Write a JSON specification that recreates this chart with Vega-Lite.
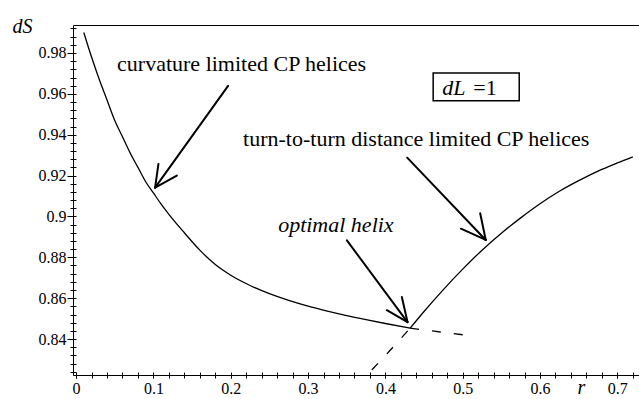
{
  "$schema": "https://vega.github.io/schema/vega-lite/v6.json",
  "width": 566,
  "height": 350,
  "autosize": {"type": "none"},
  "padding": {"left": 73, "top": 25, "right": 0, "bottom": 24},
  "background": "white",
  "config": {
    "view": {"stroke": null},
    "font": "Liberation Serif",
    "axis": {
      "labelFont": "Liberation Serif",
      "labelFontSize": 16,
      "labelColor": "black",
      "domainColor": "black",
      "tickColor": "black",
      "domainWidth": 1,
      "tickWidth": 1,
      "grid": false,
      "titleFont": "Liberation Serif",
      "titleColor": "black"
    }
  },
  "datasets": {
    "solid": [
      {"seg": "curvature", "r": 0.010, "dS": 0.990},
      {"seg": "curvature", "r": 0.020, "dS": 0.978},
      {"seg": "curvature", "r": 0.030, "dS": 0.967},
      {"seg": "curvature", "r": 0.040, "dS": 0.957},
      {"seg": "curvature", "r": 0.050, "dS": 0.947},
      {"seg": "curvature", "r": 0.060, "dS": 0.939},
      {"seg": "curvature", "r": 0.070, "dS": 0.931},
      {"seg": "curvature", "r": 0.080, "dS": 0.924},
      {"seg": "curvature", "r": 0.090, "dS": 0.917},
      {"seg": "curvature", "r": 0.100, "dS": 0.9115},
      {"seg": "curvature", "r": 0.110, "dS": 0.906},
      {"seg": "curvature", "r": 0.120, "dS": 0.901},
      {"seg": "curvature", "r": 0.140, "dS": 0.892},
      {"seg": "curvature", "r": 0.160, "dS": 0.8835},
      {"seg": "curvature", "r": 0.180, "dS": 0.8765},
      {"seg": "curvature", "r": 0.200, "dS": 0.8712},
      {"seg": "curvature", "r": 0.225, "dS": 0.8662},
      {"seg": "curvature", "r": 0.250, "dS": 0.8622},
      {"seg": "curvature", "r": 0.275, "dS": 0.8589},
      {"seg": "curvature", "r": 0.300, "dS": 0.8561},
      {"seg": "curvature", "r": 0.325, "dS": 0.8537},
      {"seg": "curvature", "r": 0.350, "dS": 0.8515},
      {"seg": "curvature", "r": 0.375, "dS": 0.8495},
      {"seg": "curvature", "r": 0.400, "dS": 0.8476},
      {"seg": "curvature", "r": 0.432, "dS": 0.8453},
      {"seg": "distance", "r": 0.432, "dS": 0.8453},
      {"seg": "distance", "r": 0.450, "dS": 0.8535},
      {"seg": "distance", "r": 0.475, "dS": 0.8642},
      {"seg": "distance", "r": 0.500, "dS": 0.8742},
      {"seg": "distance", "r": 0.525, "dS": 0.8835},
      {"seg": "distance", "r": 0.550, "dS": 0.8918},
      {"seg": "distance", "r": 0.575, "dS": 0.8993},
      {"seg": "distance", "r": 0.600, "dS": 0.9062},
      {"seg": "distance", "r": 0.625, "dS": 0.9123},
      {"seg": "distance", "r": 0.650, "dS": 0.9175},
      {"seg": "distance", "r": 0.675, "dS": 0.9222},
      {"seg": "distance", "r": 0.700, "dS": 0.9262},
      {"seg": "distance", "r": 0.720, "dS": 0.9292}
    ],
    "dashed": [
      {"seg": "curvature", "r": 0.432, "dS": 0.8453},
      {"seg": "curvature", "r": 0.466, "dS": 0.8437},
      {"seg": "curvature", "r": 0.500, "dS": 0.8421},
      {"seg": "distance", "r": 0.3825, "dS": 0.8249},
      {"seg": "distance", "r": 0.405, "dS": 0.8340},
      {"seg": "distance", "r": 0.432, "dS": 0.8453}
    ],
    "arrows": [
      {"r1": 0.1966, "v1": 0.9639, "r2": 0.1022, "v2": 0.9141},
      {"r1": 0.1022, "v1": 0.9141, "r2": 0.1065, "v2": 0.9257},
      {"r1": 0.1022, "v1": 0.9141, "r2": 0.1303, "v2": 0.9200},
      {"r1": 0.4282, "v1": 0.9288, "r2": 0.5298, "v2": 0.8885},
      {"r1": 0.5298, "v1": 0.8885, "r2": 0.5226, "v2": 0.9016},
      {"r1": 0.5298, "v1": 0.8885, "r2": 0.4977, "v2": 0.8940},
      {"r1": 0.3502, "v1": 0.8883, "r2": 0.4286, "v2": 0.8483},
      {"r1": 0.4286, "v1": 0.8483, "r2": 0.4213, "v2": 0.8606},
      {"r1": 0.4286, "v1": 0.8483, "r2": 0.4019, "v2": 0.8541}
    ],
    "box": [
      {"r1": 0.4618, "r2": 0.5731, "v1": 0.9702, "v2": 0.9566}
    ],
    "notes": [
      {"r": 0.053, "v": 0.9712, "label": "curvature limited CP helices"},
      {"r": 0.216, "v": 0.9346, "label": "turn-to-turn distance limited CP helices"},
      {"r": 0.5136, "v": 0.9595, "label": "=1"}
    ],
    "italicNotes": [
      {"r": 0.2613, "v": 0.8922, "label": "optimal helix"},
      {"r": 0.4735, "v": 0.9595, "label": "dL"}
    ]
  },
  "layer": [
    {
      "data": {"name": "solid"},
      "mark": {"type": "line", "color": "black", "strokeWidth": 1.3, "interpolate": "monotone"},
      "encoding": {
        "x": {
          "field": "r", "type": "quantitative",
          "scale": {"domain": [-0.004, 0.728], "nice": false, "zero": false},
          "axis": {
            "orient": "bottom",
            "values": [0, 0.1, 0.2, 0.3, 0.4, 0.5, 0.6, 0.7],
            "format": "~g",
            "tickSize": 3,
            "labelPadding": 2,
            "title": "r",
            "titleFontSize": 20,
            "titleFontStyle": "italic",
            "titleFontWeight": "normal",
            "titleX": 508,
            "titleY": 18,
            "titleAlign": "center",
            "titleBaseline": "alphabetic"
          }
        },
        "y": {
          "field": "dS", "type": "quantitative",
          "scale": {"domain": [0.8224, 0.9937], "nice": false, "zero": false},
          "axis": {
            "orient": "left",
            "values": [0.84, 0.86, 0.88, 0.9, 0.92, 0.94, 0.96, 0.98],
            "format": "~g",
            "tickSize": 6,
            "labelPadding": 1,
            "title": "dS",
            "titleAngle": 0,
            "titleFontSize": 20,
            "titleFontStyle": "italic",
            "titleFontWeight": "normal",
            "titleX": -51,
            "titleY": 7,
            "titleAlign": "center",
            "titleBaseline": "alphabetic"
          }
        },
        "detail": {"field": "seg", "type": "nominal"}
      }
    },
    {
      "data": {"name": "dashed"},
      "mark": {"type": "line", "color": "black", "strokeWidth": 1.3, "strokeDash": [9, 13], "interpolate": "monotone"},
      "encoding": {
        "x": {
          "field": "r", "type": "quantitative",
          "scale": {"domain": [-0.004, 0.728], "nice": false, "zero": false},
          "axis": {
            "orient": "bottom",
            "values": [0, 0.02, 0.04, 0.06, 0.08, 0.1, 0.12, 0.14, 0.16, 0.18, 0.2, 0.22, 0.24, 0.26, 0.28, 0.3, 0.32, 0.34, 0.36, 0.38, 0.4, 0.42, 0.44, 0.46, 0.48, 0.5, 0.52, 0.54, 0.56, 0.58, 0.6, 0.62, 0.64, 0.66, 0.68, 0.7, 0.72],
            "labels": false,
            "domain": false,
            "tickSize": 6,
            "offset": -3,
            "title": null
          }
        },
        "y": {
          "field": "dS", "type": "quantitative",
          "scale": {"domain": [0.8224, 0.9937], "nice": false, "zero": false},
          "axis": {
            "orient": "left",
            "values": [0.824, 0.828, 0.832, 0.836, 0.84, 0.844, 0.848, 0.852, 0.856, 0.86, 0.864, 0.868, 0.872, 0.876, 0.88, 0.884, 0.888, 0.892, 0.896, 0.9, 0.904, 0.908, 0.912, 0.916, 0.92, 0.924, 0.928, 0.932, 0.936, 0.94, 0.944, 0.948, 0.952, 0.956, 0.96, 0.964, 0.968, 0.972, 0.976, 0.98, 0.984, 0.988, 0.992],
            "labels": false,
            "domain": false,
            "tickSize": 6,
            "offset": -3,
            "title": null
          }
        },
        "detail": {"field": "seg", "type": "nominal"}
      }
    },
    {
      "data": {"name": "arrows"},
      "mark": {"type": "rule", "color": "black", "strokeWidth": 2, "strokeCap": "round"},
      "encoding": {
        "x": {
          "field": "r1", "type": "quantitative",
          "scale": {"domain": [-0.004, 0.728], "nice": false, "zero": false},
          "axis": {"orient": "top", "labels": false, "ticks": false, "domain": true, "title": null}
        },
        "y": {
          "field": "v1", "type": "quantitative",
          "scale": {"domain": [0.8224, 0.9937], "nice": false, "zero": false},
          "axis": null
        },
        "x2": {"field": "r2"},
        "y2": {"field": "v2"}
      }
    },
    {
      "data": {"name": "box"},
      "mark": {"type": "rect", "filled": false, "stroke": "black", "strokeWidth": 1.5},
      "encoding": {
        "x": {"field": "r1", "type": "quantitative", "scale": {"domain": [-0.004, 0.728], "nice": false, "zero": false}, "axis": null},
        "x2": {"field": "r2"},
        "y": {"field": "v1", "type": "quantitative", "scale": {"domain": [0.8224, 0.9937], "nice": false, "zero": false}, "axis": null},
        "y2": {"field": "v2"}
      }
    },
    {
      "data": {"name": "notes"},
      "mark": {"type": "text", "align": "left", "baseline": "alphabetic", "font": "Liberation Serif", "fontSize": 22, "color": "black"},
      "encoding": {
        "x": {"field": "r", "type": "quantitative", "scale": {"domain": [-0.004, 0.728], "nice": false, "zero": false}, "axis": null},
        "y": {"field": "v", "type": "quantitative", "scale": {"domain": [0.8224, 0.9937], "nice": false, "zero": false}, "axis": null},
        "text": {"field": "label", "type": "nominal"}
      }
    },
    {
      "data": {"name": "italicNotes"},
      "mark": {"type": "text", "align": "left", "baseline": "alphabetic", "font": "Liberation Serif", "fontStyle": "italic", "fontSize": 22, "color": "black"},
      "encoding": {
        "x": {"field": "r", "type": "quantitative", "scale": {"domain": [-0.004, 0.728], "nice": false, "zero": false}, "axis": null},
        "y": {"field": "v", "type": "quantitative", "scale": {"domain": [0.8224, 0.9937], "nice": false, "zero": false}, "axis": null},
        "text": {"field": "label", "type": "nominal"}
      }
    }
  ],
  "resolve": {"axis": {"x": "independent", "y": "independent"}}
}
